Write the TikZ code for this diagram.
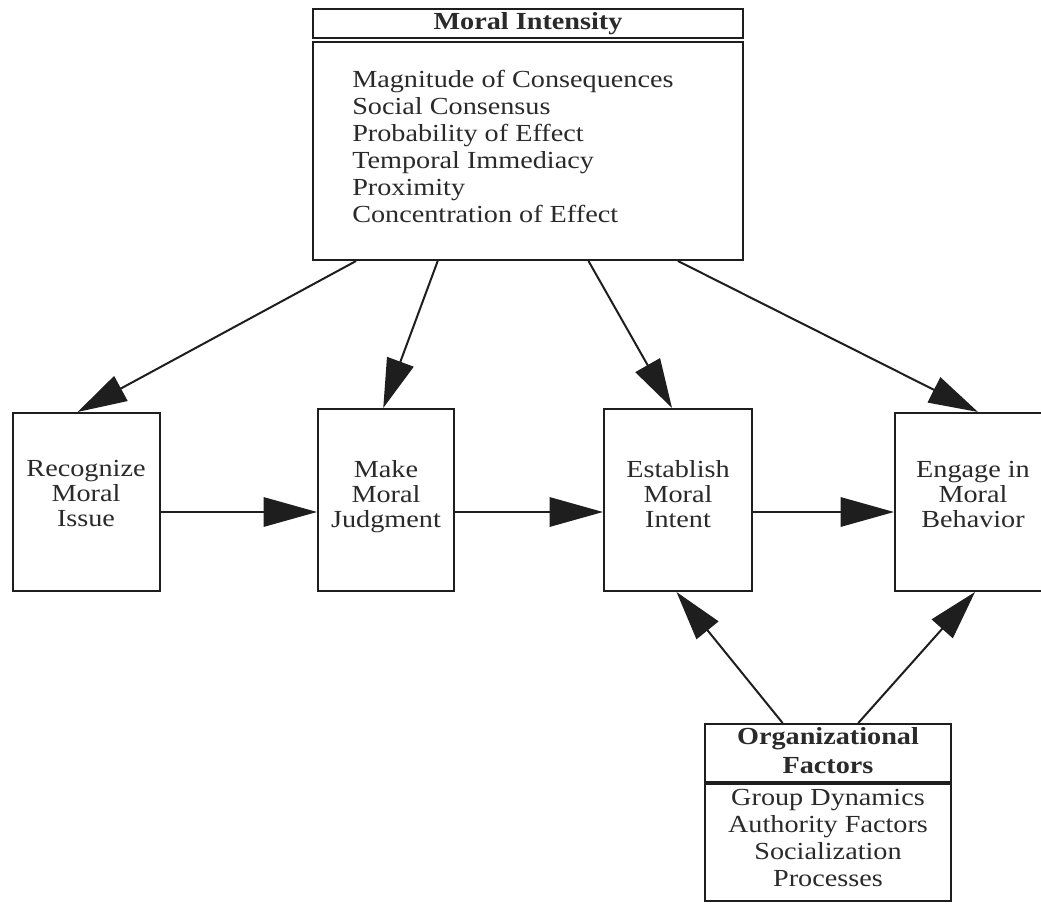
\documentclass[tikz,border=0pt]{standalone}
\usepackage{fontspec}
\setmainfont{Liberation Serif}[FakeStretch=1.15]
\usetikzlibrary{arrows.meta,calc}
\definecolor{ink}{HTML}{1E1E1E}
\definecolor{txt}{HTML}{2A2A2A}
\begin{document}
\begin{tikzpicture}[x=0.75pt,y=-0.75pt,
  box/.style={draw=ink,line width=1.5pt,fill=white,inner sep=0pt},
  conn/.style={draw=ink,line width=1.5pt,-{Triangle[length=37pt,width=21pt]}},
  hconn/.style={draw=ink,line width=1.5pt,-{Triangle[length=40pt,width=22pt]}},
  lbl/.style={text=txt,align=center,inner sep=0pt,font=\fontsize{18.4pt}{18.75pt}\selectfont},
  listtxt/.style={text=txt,align=left,inner sep=0pt,font=\fontsize{18.4pt}{20.25pt}\selectfont},
  head/.style={text=txt,align=center,inner sep=0pt,font=\fontsize{18.4pt}{21.75pt}\selectfont\bfseries},
]
\useasboundingbox (0,0) rectangle (1041,905);

% Moral intensity: title bar and body
\node[box,minimum width=322.5pt,minimum height=21.75pt] (mihead) at (528,23.5) {};
\node[head] (mihead-t) at (528,23.5) {Moral Intensity};
\node[box,minimum width=322.5pt,minimum height=163.5pt] (mi) at (528,151) {};
\node[listtxt,anchor=north west] (mi-t) at (352,70) {Magnitude of Consequences\\Social Consensus\\Probability of Effect\\Temporal Immediacy\\Proximity\\Concentration of Effect};

% the four stages
\node[box,minimum width=110.25pt,minimum height=133.5pt] (rec) at (86.5,502) {};
\node[lbl] (rec-t) at (86,493) {Recognize\\Moral\\Issue};
\node[box,minimum width=102pt,minimum height=136.5pt] (make) at (386,500) {};
\node[lbl] (make-t) at (386,497) {Make\\Moral\\Judgment};
\node[box,minimum width=111pt,minimum height=136.5pt] (est) at (678,500) {};
\node[lbl] (est-t) at (678,494) {Establish\\Moral\\Intent};
\node[box,minimum width=111pt,minimum height=133.5pt] (eng) at (969,502) {};
\node[lbl] (eng-t) at (973,494) {Engage in\\Moral\\Behavior};

% organizational factors: title bar and body
\node[box,minimum width=184.5pt,minimum height=43.5pt] (orghead) at (828,753) {};
\node[head,font=\fontsize{18.4pt}{21.75pt}\selectfont\bfseries] (orghead-t) at (828,751) {Organizational\\Factors};
\node[box,minimum width=184.5pt,minimum height=89.25pt] (org) at (828,841.5) {};
\node[listtxt,align=center] (org-t) at (828,838) {Group Dynamics\\Authority Factors\\Socialization\\Processes};
\draw[ink,line width=3pt] (orghead.south west) -- (orghead.south east);

% stage sequence
\draw[hconn] ([yshift=-9pt]make.west -| rec.east) -- ([yshift=-9pt]make.west);
\draw[hconn] ([yshift=-9pt]make.east) -- ([yshift=-9pt]est.west);
\draw[hconn] ([yshift=-9pt]est.east) -- ([yshift=-9pt]est.east -| eng.west);

% moral intensity acts on every stage
\draw[conn] ($(mi.south west)!0.102!(mi.south east)$) -- ($(rec.north west)!0.44!(rec.north east)$);
\draw[conn] ($(mi.south west)!0.291!(mi.south east)$) -- ($(make.north west)!0.48!(make.north east)$);
\draw[conn] ($(mi.south west)!0.640!(mi.south east)$) -- ($(est.north west)!0.46!(est.north east)$);
\draw[conn] ($(mi.south west)!0.847!(mi.south east)$) -- ($(eng.north west)!0.56!(eng.north east)$);

% organizational factors act on intent and behavior
\draw[conn] ($(orghead.north west)!0.317!(orghead.north east)$) -- ($(est.south west)!0.49!(est.south east)$);
\draw[conn] ($(orghead.north west)!0.622!(orghead.north east)$) -- ($(eng.south west)!0.54!(eng.south east)$);
\end{tikzpicture}
\end{document}
